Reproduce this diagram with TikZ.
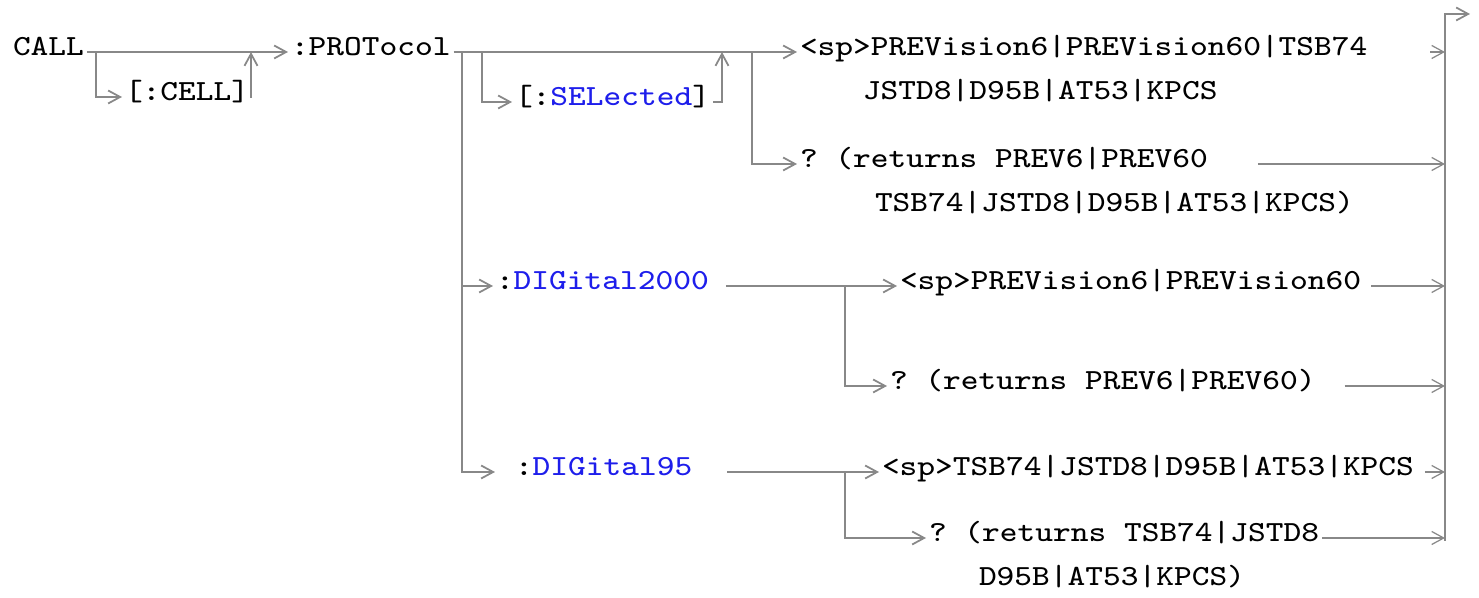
\documentclass[tikz,border=0pt]{standalone}
\usepackage{fontspec}
\usetikzlibrary{arrows.meta}
\definecolor{railgray}{RGB}{136,136,136}
\definecolor{cmdblue}{RGB}{30,30,235}
\newcommand{\cmd}[1]{\textcolor{cmdblue}{#1}}
\newcommand{\wide}[1]{\scalebox{1.144}[1]{#1}}

\begin{document}
\begin{tikzpicture}[x=0.01cm, y=-0.01cm,
    >={Straight Barb[length=1.2mm, width=1.3mm]},
    kw/.style={font={\ttfamily\fontsize{8.3pt}{10pt}\selectfont\frenchspacing},
      inner sep=0pt, outer xsep=0.03cm, text height=0.07cm, text depth=0pt, anchor=west},
    rail/.style={draw=railgray, line width=0.5pt},
    railend/.style={draw=railgray, line width=0.35pt}]
  \useasboundingbox (0,0) rectangle (1479,598);
  % CALL[:CELL]:PROTocol
  \node[kw] (call) at (10,52) {\wide{CALL}};
  \node[kw] (cell) at (122,97) {\wide{[:CELL]}};
  \node[kw] (proto) at (288,52) {\wide{:PROTocol}};
  % [:SELected] branch
  \node[kw] (sel) at (512,102) {\wide{[:\cmd{SELected}]}};
  \node[kw] (selset) at (797,52) {\wide{<sp>PREVision6|PREVision60|TSB74}};
  \node[kw] (selset2) at (860,96) {\wide{JSTD8|D95B|AT53|KPCS}};
  \node[kw] (selq) at (797,164) {\wide{? (returns PREV6|PREV60}};
  \node[kw] (selq2) at (872,208) {\wide{TSB74|JSTD8|D95B|AT53|KPCS)}};
  % :DIGital2000 branch
  \node[kw] (dig2k) at (493,286) {\wide{:\cmd{DIGital2000}}};
  \node[kw] (dig2kset) at (897,286) {\wide{<sp>PREVision6|PREVision60}};
  \node[kw] (dig2kq) at (887,386) {\wide{? (returns PREV6|PREV60)}};
  % :DIGital95 branch
  \node[kw] (dig95) at (512,472) {\wide{:\cmd{DIGital95}}};
  \node[kw] (dig95set) at (879,472) {\wide{<sp>TSB74|JSTD8|D95B|AT53|KPCS}};
  \node[kw] (dig95q) at (926,538) {\wide{? (returns TSB74|JSTD8}};
  \node[kw] (dig95q2) at (976,582) {\wide{D95B|AT53|KPCS)}};
  % branch points
  \coordinate (cellin) at (96,52);
  \coordinate (cellout) at (251,52);
  \coordinate (digtrunk) at (462,52);
  \coordinate (selin) at (482,52);
  \coordinate (selout) at (722,52);
  \coordinate (qin) at (752,52);
  \coordinate (dig2kin) at (845,286);
  \coordinate (dig95in) at (845,472);
  \coordinate (rbot) at (1445,541);
  \coordinate (rtop) at (1445,14);
  \coordinate (rout) at (1470,14);
  % rails
  \draw[rail,->] (call) -- (proto);
  \draw[rail,->] (cellin) |- (cell);
  \draw[rail,->] (cell) -| (cellout);
  \draw[rail,->] (proto) -- (selset);
  \draw[rail,->] (selin) |- (sel);
  \draw[rail,->] (sel) -| (selout);
  \draw[rail,->] (qin) |- (selq);
  \draw[rail,->] (digtrunk) |- (dig2k);
  \draw[rail,->, shorten >=0.17cm] (digtrunk) |- (dig95);
  \draw[rail,->, shorten <=0.14cm] (dig2k) -- (dig2kset);
  \draw[rail,->] (dig2kin) |- (dig2kq);
  \draw[rail,->, shorten <=0.32cm] (dig95) -- (dig95set);
  \draw[rail,->] (dig95in) |- (dig95q);
  % exits to the right-hand rail
  \draw[railend,->, shorten <=0.6cm] (selset) -- (selset -| rtop);
  \draw[railend,->, shorten <=0.47cm] (selq) -- (selq -| rtop);
  \draw[railend,->, shorten <=0.07cm] (dig2kset) -- (dig2kset -| rtop);
  \draw[railend,->, shorten <=0.26cm] (dig2kq) -- (dig2kq -| rtop);
  \draw[railend,->, shorten <=0.08cm] (dig95set) -- (dig95set -| rtop);
  \draw[railend,->] (dig95q) -- (dig95q -| rtop);
  \draw[rail,->] (rbot) -- (rtop) -- (rout);
\end{tikzpicture}
\end{document}
